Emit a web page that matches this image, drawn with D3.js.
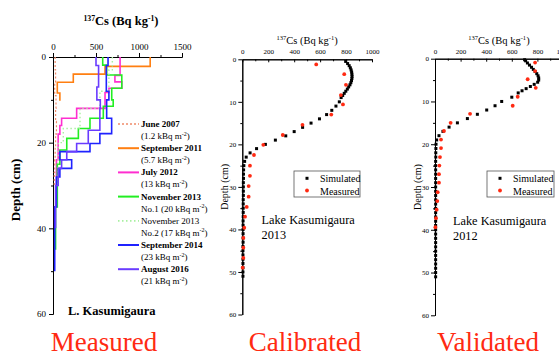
<!DOCTYPE html>
<html>
<head>
<meta charset="utf-8">
<script src="https://cdn.jsdelivr.net/npm/d3@7"></script>
<style>
  body { margin: 0; background: #fff; }
  svg, svg text { font-family: "Liberation Serif", "DejaVu Serif", serif; }
</style>
</head>
<body>
<svg id="chart" width="559" height="357"></svg>
<script>
// ---- left panel: measured step profiles (layer top depths in cm, Bq/kg per layer)
const jun2007Depth = [0, 3, 6, 9, 12, 15, 18, 21, 24, 27, 30];
const jun2007Cs    = [25, 30, 20, 35, 30, 40, 30, 25, 20, 15];
const sep2011Depth = [0, 2.2, 4.0, 5.9, 8.4, 10.2];
const sep2011Cs    = [1130, 605, 236, 50, 80];
const jul2012Depth = [0, 4.3, 5.8, 7.3, 8.3, 12, 14.3, 16, 18, 24, 35, 40];
const jul2012Cs    = [780, 720, 800, 650, 605, 275, 100, 80, 60, 40, 20];
const nov2013aDepth = [0, 1.9, 4.2, 7.3, 10, 11.5, 14.3, 16.7, 19, 21.7, 25, 35, 45];
const nov2013aCs    = [578, 624, 800, 683, 700, 585, 430, 295, 160, 80, 50, 30];
const nov2013bDepth = [0, 3, 8, 12, 16.7, 20, 30];
const nov2013bCs    = [690, 650, 545, 314, 120, 60];
const sep2014Depth = [0, 2, 8, 10, 14.3, 17.9, 20.2, 22.1, 24, 26, 28, 35, 50];
const sep2014Cs    = [640, 620, 650, 624, 682, 545, 430, 80, 217, 80, 40, 20];
const aug2016Depth = [0, 2, 7, 10, 12, 17.1, 20.2, 22.1, 24, 26, 30, 40];
const aug2016Cs    = [500, 530, 510, 550, 545, 410, 275, 160, 100, 60, 30];

const legendDates = ["June 2007", "September 2011", "July 2012", "November 2013",
                     "November 2013", "September 2014", "August 2016"];
const legendInventory = ["(1.2 kBq m", "(5.7 kBq m", "(13 kBq m", "No.1 (20 kBq m",
                         "No.2 (17 kBq m", "(23 kBq m", "(21 kBq m"];

// ---- calibration, Lake Kasumigaura 2013
const cal2013SimDepth = [0.5, 1, 1.5, 2, 2.5, 3, 3.5, 4, 4.5, 5, 5.5, 6, 6.5, 7, 7.5, 8, 8.5, 9,
  10, 11, 12, 13, 14, 15, 16, 17, 18, 19, 20, 21, 22, 23, 24, 25, 26, 27, 28, 29, 30,
  31, 32, 33, 34, 35, 36, 37, 38, 39, 40, 41, 42, 43, 44, 45, 46, 47, 48, 49, 50, 51];
const cal2013SimCs = [797, 812, 824, 833, 839, 843, 845, 846, 845, 842, 837, 830, 820, 810, 798, 786, 774, 762,
  748, 722, 690, 650, 595, 530, 465, 400, 335, 255, 178, 110, 60, 30, 18, 12, 10, 9, 9, 8, 8,
  8, 8, 7, 7, 7, 7, 7, 6, 6, 6, 6, 6, 6, 5, 5, 5, 5, 5, 5, 5, 5];
const cal2013MeasDepth = [1.2, 3.5, 6.0, 8.4, 10.6, 13.0, 15.4, 17.8, 20.1, 22.5, 25.0,
  27.4, 29.8, 32.3, 34.7, 37.0, 39.6, 42.0, 44.3, 46.7, 49.0];
const cal2013MeasCs = [570, 786, 799, 760, 776, 686, 464, 312, 162, 90, 59,
  59, 49, 49, 34, 21, 15, 8, 8, 8, 3];

// ---- validation, Lake Kasumigaura 2012
const val2012SimDepth = [0.25, 0.5, 1, 1.5, 2, 2.5, 3, 3.5, 4, 4.5, 5, 5.5, 6, 6.5, 7, 7.5, 8,
  9, 10, 11, 12, 13, 14, 15, 16, 17, 18, 19, 20, 21, 22, 23, 24, 25, 26, 27, 28, 29, 30,
  31, 32, 33, 34, 35, 36, 37, 38, 39, 40, 41, 42, 43, 44, 45, 46, 47, 48, 49, 50, 51];
const val2012SimCs = [700, 708, 722, 738, 754, 768, 782, 795, 805, 810, 810, 802, 775, 745, 712, 680, 650,
  600, 521, 469, 404, 331, 253, 175, 110, 62, 31, 13, 8, 7, 6, 6, 5, 5, 5, 5, 5, 5, 5,
  5, 5, 5, 5, 5, 5, 5, 5, 5, 5, 5, 5, 5, 5, 5, 5, 5, 5, 5, 5, 5];
const val2012MeasDepth = [0.9, 2.9, 4.8, 6.8, 8.9, 11.0, 12.9, 15.0, 16.9, 18.9, 20.9,
  23.0, 25.0, 27.0, 29.0, 31.2, 33.3, 35.3, 37.3, 39.4];
const val2012MeasCs = [782, 782, 724, 787, 646, 607, 274, 122, 70, 47, 47,
  39, 34, 31, 31, 21, 18, 13, 8, 3];

const leftCsTicks = [0, 500, 1000, 1500];
const leftCsMinor = [250, 750, 1250];
const leftDepthTicks = [0, 20, 40, 60];
const leftDepthMinor = [10, 30, 50];
const modelCsTicks = [0, 200, 400, 600, 800, 1000];
const modelCsMinor = [100, 300, 500, 700, 900];
const modelDepthTicks = [0, 10, 20, 30, 40, 50, 60];
const modelDepthMinor = [5, 15, 25, 35, 45, 55];

const panelNames = ["Measured", "Calibrated", "Validated"];

const serif = "'Liberation Serif', 'DejaVu Serif', serif";
const svg = d3.select("#chart").attr("font-family", serif);
const red = "#ff2a12";
const fmt = d3.format("d");

function csTitle(x, y, size, bold) {
  const t = svg.append("text").attr("x", x).attr("y", y)
    .attr("text-anchor", "middle").attr("font-size", size)
    .attr("font-family", serif)
    .attr("font-weight", bold ? "bold" : "normal");
  t.append("tspan").attr("font-size", size * 0.62).attr("dy", -size * 0.35).text("137");
  t.append("tspan").attr("dy", size * 0.35).text("Cs (Bq kg");
  t.append("tspan").attr("font-size", size * 0.62).attr("dy", -size * 0.35).text("-1");
  t.append("tspan").attr("dy", size * 0.35).text(")");
}

function styleAxis(g, size) {
  g.attr("font-family", serif).attr("font-size", size);
  g.selectAll("path, line").attr("stroke", "#000");
}

// ================= left panel =================
const xL = d3.scaleLinear().domain([0, 1500]).range([53, 182]);
const yL = d3.scaleLinear().domain([0, 60]).range([57, 314]);

csTitle(121, 25, 12.5, true);

svg.append("g").attr("transform", "translate(0,57)")
  .call(d3.axisTop(xL).tickValues(leftCsMinor).tickSize(2).tickSizeOuter(0).tickFormat(""))
  .call(g => styleAxis(g, 9));
svg.append("g").attr("transform", "translate(0,57)")
  .call(d3.axisTop(xL).tickValues(leftCsTicks).tickSize(4).tickSizeOuter(0).tickPadding(3).tickFormat(fmt))
  .call(g => styleAxis(g, 9));
svg.append("g").attr("transform", "translate(53,0)")
  .call(d3.axisLeft(yL).tickValues(leftDepthMinor).tickSize(2).tickSizeOuter(0).tickFormat(""))
  .call(g => styleAxis(g, 9));
svg.append("g").attr("transform", "translate(53,0)")
  .call(d3.axisLeft(yL).tickValues(leftDepthTicks).tickSize(4).tickSizeOuter(0).tickPadding(3).tickFormat(fmt))
  .call(g => styleAxis(g, 9));

svg.append("text").attr("transform", "translate(20,190) rotate(-90)")
  .attr("text-anchor", "middle").attr("font-size", 13).attr("font-weight", "bold")
  .attr("font-family", serif).text("Depth (cm)");

const profiles = [
  { depth: jun2007Depth, cs: jun2007Cs, color: "#f08a6a", dash: "2,2", width: 1.2 },
  { depth: sep2011Depth, cs: sep2011Cs, color: "#ff7f11", dash: null, width: 1.6 },
  { depth: jul2012Depth, cs: jul2012Cs, color: "#ff2ed0", dash: null, width: 1.6 },
  { depth: nov2013aDepth, cs: nov2013aCs, color: "#22ee22", dash: null, width: 1.6 },
  { depth: nov2013bDepth, cs: nov2013bCs, color: "#a8f0a0", dash: "1.5,2.5", width: 1.4 },
  { depth: sep2014Depth, cs: sep2014Cs, color: "#1f22ff", dash: null, width: 1.6 },
  { depth: aug2016Depth, cs: aug2016Cs, color: "#6a3cff", dash: null, width: 1.6 }
];

const stepLine = d3.line()
  .x(d => xL(d[0]))
  .y(d => yL(d[1]))
  .curve(d3.curveStepBefore);

profiles.forEach(p => {
  const pts = p.depth.map((d, i) => [p.cs[Math.min(i, p.cs.length - 1)], d]);
  svg.append("path").attr("d", stepLine(pts))
    .attr("fill", "none").attr("stroke", p.color)
    .attr("stroke-width", p.width)
    .attr("stroke-dasharray", p.dash);
});

// legend
profiles.forEach((p, i) => {
  const base = 127 + 24.2 * i;
  svg.append("line").attr("x1", 118).attr("x2", 139)
    .attr("y1", base - 3).attr("y2", base - 3)
    .attr("stroke", p.color).attr("stroke-width", p.width + 0.4)
    .attr("stroke-dasharray", p.dash);
  svg.append("text").attr("x", 141).attr("y", base).attr("font-family", serif)
    .attr("font-size", 9).attr("font-weight", i === 4 ? "normal" : "bold")
    .text(legendDates[i]);
  const t = svg.append("text").attr("x", 141).attr("y", base + 12)
    .attr("font-family", serif).attr("font-size", 9);
  t.append("tspan").text(legendInventory[i]);
  t.append("tspan").attr("font-size", 6).attr("dy", -3.5).text("-2");
  t.append("tspan").attr("dy", 3.5).text(")");
});

svg.append("text").attr("x", 68).attr("y", 315).attr("font-family", serif)
  .attr("font-size", 12.5).attr("font-weight", "bold").text("L. Kasumigaura");

// ================= model panels =================
function modelPanel(cfg) {
  const x = d3.scaleLinear().domain([0, 1000]).range([cfg.x0, cfg.x1]);
  const y = d3.scaleLinear().domain([0, 60]).range([cfg.y0, cfg.y1]);

  csTitle((cfg.x0 + cfg.x1) / 2, 44, 10.5, false);

  svg.append("g").attr("transform", `translate(0,${cfg.y0})`)
    .call(d3.axisTop(x).tickValues(modelCsMinor).tickSizeInner(-2).tickSizeOuter(0).tickFormat(""))
    .call(g => styleAxis(g, 7));
  svg.append("g").attr("transform", `translate(0,${cfg.y0})`)
    .call(d3.axisTop(x).tickValues(modelCsTicks).tickSizeInner(-3).tickSizeOuter(0).tickPadding(5).tickFormat(fmt))
    .call(g => styleAxis(g, 7));
  svg.append("g").attr("transform", `translate(${cfg.x0},0)`)
    .call(d3.axisLeft(y).tickValues(modelDepthMinor).tickSize(2).tickSizeOuter(0).tickFormat(""))
    .call(g => styleAxis(g, 7));
  svg.append("g").attr("transform", `translate(${cfg.x0},0)`)
    .call(d3.axisLeft(y).tickValues(modelDepthTicks).tickSize(4).tickSizeOuter(0).tickPadding(2).tickFormat(fmt))
    .call(g => styleAxis(g, 7));

  svg.append("text")
    .attr("transform", `translate(${cfg.x0 - 14},${(cfg.y0 + cfg.y1) / 2}) rotate(-90)`)
    .attr("text-anchor", "middle").attr("font-size", 10).attr("font-family", serif)
    .text("Depth (cm)");

  svg.append("g").selectAll("rect")
    .data(cfg.simDepth.map((d, i) => [cfg.simCs[i], d]))
    .join("rect")
    .attr("x", d => x(d[0]) - 1.5).attr("y", d => y(d[1]) - 1.5)
    .attr("width", 3).attr("height", 3).attr("fill", "#000");

  svg.append("g").selectAll("circle")
    .data(cfg.measDepth.map((d, i) => [cfg.measCs[i], d]))
    .join("circle")
    .attr("cx", d => x(d[0])).attr("cy", d => y(d[1]))
    .attr("r", 1.9).attr("fill", red);

  // legend box
  const lx = cfg.legendX;
  svg.append("rect").attr("x", lx).attr("y", 171).attr("width", cfg.legendW).attr("height", 26)
    .attr("fill", "#fff").attr("stroke", "#555").attr("stroke-width", 0.8);
  svg.append("rect").attr("x", lx + 11.5).attr("y", 176.8).attr("width", 3).attr("height", 3).attr("fill", "#000");
  svg.append("circle").attr("cx", lx + 13).attr("cy", 190.5).attr("r", 1.9).attr("fill", red);
  svg.append("text").attr("x", lx + cfg.legendText).attr("y", 181.5).attr("font-size", 10)
    .attr("font-family", serif).text("Simulated");
  svg.append("text").attr("x", lx + cfg.legendText).attr("y", 194.5).attr("font-size", 10)
    .attr("font-family", serif).text("Measured");

  svg.append("text").attr("x", cfg.noteX).attr("y", cfg.noteY).attr("font-size", 12.3)
    .attr("font-family", serif).text("Lake Kasumigaura");
  svg.append("text").attr("x", cfg.noteX).attr("y", cfg.noteY + 14.5).attr("font-size", 12.3)
    .attr("font-family", serif).text(cfg.year);
}

modelPanel({
  x0: 242.3, x1: 372, y0: 59.3, y1: 314.5,
  simDepth: cal2013SimDepth, simCs: cal2013SimCs,
  measDepth: cal2013MeasDepth, measCs: cal2013MeasCs,
  legendX: 294, legendW: 66, legendText: 26,
  noteX: 261.5, noteY: 224, year: "2013"
});

modelPanel({
  x0: 435, x1: 563, y0: 58.7, y1: 315.3,
  simDepth: val2012SimDepth, simCs: val2012SimCs,
  measDepth: val2012MeasDepth, measCs: val2012MeasCs,
  legendX: 487, legendW: 67, legendText: 26,
  noteX: 453, noteY: 225, year: "2012"
});

// ================= panel captions =================
const captionX = [104, 305, 488];
panelNames.forEach((n, i) => {
  svg.append("text").attr("x", captionX[i]).attr("y", 351)
    .attr("text-anchor", "middle").attr("font-size", 27)
    .attr("font-family", serif)
    .attr("fill", red).text(n);
});
</script>
</body>
</html>
